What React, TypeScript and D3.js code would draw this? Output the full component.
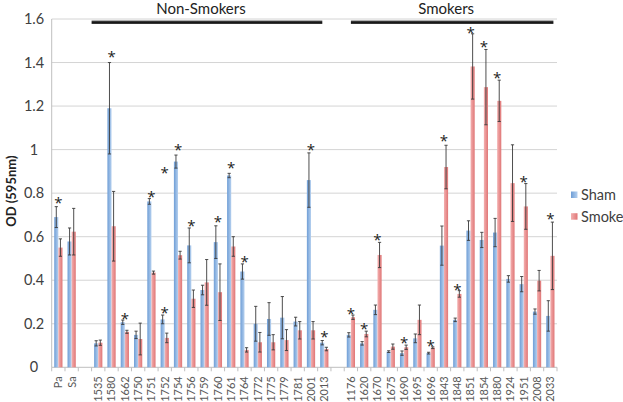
import React from "react";
import * as d3 from "d3";

const categories = ["Pa","Sa","","1535","1580","1662","1750","1751","1752","1754","1756","1759","1760","1761","1764","1772","1775","1779","1781","2001","2013","","1176","1620","1670","1675","1690","1695","1696","1843","1848","1851","1854","1880","1924","1951","2008","2033"];
const shamValues = [0.69,0.578,null,0.11,1.19,0.207,0.149,0.762,0.22,0.945,0.56,0.355,0.575,0.881,0.44,0.2,0.222,0.228,0.21,0.86,0.113,null,0.149,0.11,0.264,0.072,0.065,0.133,0.065,0.559,0.218,0.628,0.585,0.619,0.406,0.382,0.256,0.236];
const shamErrors = [0.048,0.062,null,0.012,0.21,0.01,0.017,0.013,0.02,0.03,0.08,0.022,0.075,0.01,0.035,0.08,0.075,0.097,0.02,0.125,0.01,null,0.01,0.008,0.022,0.004,0.01,0.02,0.004,0.09,0.008,0.045,0.035,0.065,0.015,0.035,0.012,0.07];
const smokeValues = [0.55,0.623,null,0.113,0.648,0.163,0.13,0.435,0.135,0.515,0.315,0.39,0.345,0.555,0.08,0.115,0.115,0.125,0.17,0.17,0.084,null,0.23,0.153,0.516,0.095,0.092,0.218,0.09,0.92,0.337,1.382,1.287,1.224,0.846,0.739,0.398,0.512];
const smokeErrors = [0.04,0.107,null,0.012,0.16,0.007,0.073,0.007,0.022,0.018,0.04,0.105,0.13,0.045,0.01,0.045,0.035,0.048,0.04,0.04,0.008,null,0.01,0.013,0.058,0.012,0.01,0.068,0.004,0.1,0.015,0.15,0.173,0.095,0.176,0.105,0.047,0.155];
// significance stars: [category index, value at star centre]
const starCategory = [0,4,5,7,8,8,9,10,12,13,14,19,20,22,23,24,26,28,29,30,31,32,33,35,37];
const starValue = [0.772,1.44,0.24,0.80,0.91,0.264,1.014,0.667,0.685,0.93,0.501,1.013,0.156,0.26,0.19,0.6,0.13,0.115,1.056,0.37,1.554,1.486,1.344,0.869,0.696];
const groupNames = ["Non-Smokers","Smokers"];
const groupStart = [3,22];
const groupEnd = [20,37];
const yTicks = [0,0.2,0.4,0.6,0.8,1,1.2,1.4,1.6];
const seriesNames = ["Sham","Smoke"];

const W = 623, H = 402;
const left = 51.7, right = 557, top = 19, bottom = 367.3;
const FONT = "Lato, 'Open Sans', sans-serif";
const STAR_FONT = "'Open Sans', sans-serif";

export default function App() {
  const x = d3.scaleBand<number>().domain(d3.range(categories.length)).range([left, right]).padding(0);
  const y = d3.scaleLinear().domain([0, 1.6]).range([bottom, top]);
  const bw = x.bandwidth();
  const barW = bw * 0.31;
  const cx = (i: number) => (x(i) as number) + bw / 2;
  const fmt = (v: number) => (v === 0 ? "0" : v === 1 ? "1" : d3.format(".1f")(v));

  const bars: JSX.Element[] = [];
  const errs: JSX.Element[] = [];
  categories.forEach((c, i) => {
    const series = [
      { v: shamValues[i], e: shamErrors[i], x0: cx(i) - barW, fill: "url(#gBlue)" },
      { v: smokeValues[i], e: smokeErrors[i], x0: cx(i), fill: "url(#gRed)" },
    ];
    series.forEach((s, k) => {
      if (s.v == null) return;
      bars.push(<rect key={`b${i}-${k}`} x={s.x0} y={y(s.v)} width={barW} height={y(0) - y(s.v)} fill={s.fill} />);
      const ex = s.x0 + barW / 2;
      const e = s.e as number;
      errs.push(
        <g key={`e${i}-${k}`} stroke="#3a3a3a" strokeWidth={0.9}>
          <line x1={ex} x2={ex} y1={y(s.v + e)} y2={y(Math.max(0, s.v - e))} />
          <line x1={ex - 1.6} x2={ex + 1.6} y1={y(s.v + e)} y2={y(s.v + e)} />
          <line x1={ex - 1.6} x2={ex + 1.6} y1={y(Math.max(0, s.v - e))} y2={y(Math.max(0, s.v - e))} />
        </g>
      );
    });
  });

  const groupX0 = (g: number) => (x(groupStart[g]) as number) + (g === 0 ? 0 : 0.5) * bw;
  const groupX1 = (g: number) => (x(groupEnd[g]) as number) + (g === 0 ? 0.35 : 0.73) * bw;

  return (
    <svg width={W} height={H} style={{ display: "block", position: "absolute", left: 0, top: 0, background: "#fff" }}>
      <defs>
        <linearGradient id="gBlue" x1="0" x2="1" y1="0" y2="0">
          <stop offset="0" stopColor="#6f9ed6" />
          <stop offset="1" stopColor="#b5d0ef" />
        </linearGradient>
        <linearGradient id="gRed" x1="0" x2="1" y1="0" y2="0">
          <stop offset="0" stopColor="#f3b0b0" />
          <stop offset="1" stopColor="#e07676" />
        </linearGradient>
        <linearGradient id="gLine" x1="0" x2="0" y1="0" y2="1">
          <stop offset="0" stopColor="#666" />
          <stop offset="0.5" stopColor="#111" />
          <stop offset="1" stopColor="#444" />
        </linearGradient>
      </defs>
      {yTicks.filter((t) => t > 0).map((t) => (
        <line key={`g${t}`} x1={left} x2={right} y1={y(t)} y2={y(t)} stroke="#d4d4d4" strokeWidth={1} />
      ))}
      <line x1={left} x2={left} y1={top} y2={bottom} stroke="#bfbfbf" />
      <line x1={left} x2={right} y1={bottom} y2={bottom} stroke="#bfbfbf" />
      {d3.range(categories.length + 1).map((i) => {
        const xx = i < categories.length ? (x(i) as number) : right;
        return <line key={`t${i}`} x1={xx} x2={xx} y1={bottom} y2={bottom + 4} stroke="#bfbfbf" />;
      })}
      {yTicks.map((t) => (
        <text key={`yl${t}`} x={34} y={y(t)} dy="0.35em" textAnchor="middle" fontFamily={FONT} fontSize={14.5} fill="#404040">{fmt(t)}</text>
      ))}
      {categories.map((c, i) => (
        <text key={`xl${i}`} transform={`translate(${cx(i)},${bottom + 9}) rotate(-90)`} dy="0.35em" textAnchor="end" fontFamily={FONT} fontSize={11} fill="#595959">{c}</text>
      ))}
      <text transform={`translate(11,${(top + bottom) / 2 - 2}) rotate(-90)`} dy="0.35em" textAnchor="middle" fontFamily={FONT} fontWeight="bold" fontSize={13} fill="#222">OD (595nm)</text>
      {bars}
      {errs}
      {starCategory.map((ci, k) => (
        <text key={`s${k}`} x={cx(ci)} y={y(starValue[k]) + 8.5} textAnchor="middle" fontFamily={STAR_FONT} fontSize={15} fill="#222">*</text>
      ))}
      {groupNames.map((g, gi) => (
        <g key={g}>
          <rect x={groupX0(gi)} y={20.5} width={groupX1(gi) - groupX0(gi)} height={3.5} fill="url(#gLine)" />
          <text x={(groupX0(gi) + groupX1(gi)) / 2 - 6} y={14} textAnchor="middle" fontFamily={FONT} fontSize={15} fill="#222">{g}</text>
        </g>
      ))}
      {seriesNames.map((s, k) => (
        <g key={s}>
          <rect x={571} y={191.5 + k * 21.7} width={6.5} height={6.5} fill={k === 0 ? "url(#gBlue)" : "url(#gRed)"} />
          <text x={581} y={195 + k * 21.7} dy="0.35em" fontFamily={FONT} fontSize={14.5} fill="#404040">{s}</text>
        </g>
      ))}
    </svg>
  );
}
